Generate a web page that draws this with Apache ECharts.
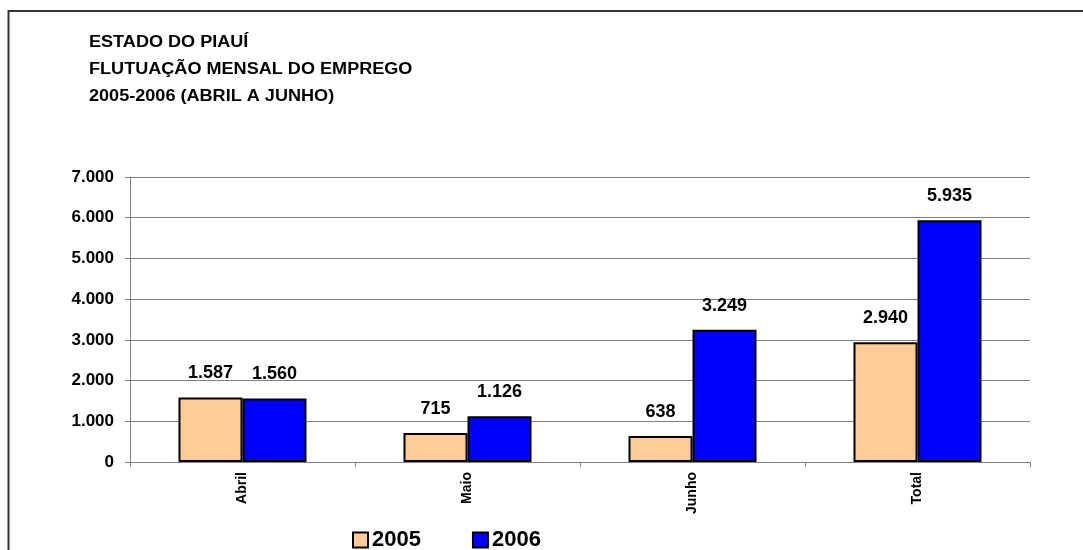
<!DOCTYPE html>
<html>
<head>
<meta charset="utf-8">
<script src="https://cdn.jsdelivr.net/npm/echarts@6/dist/echarts.min.js"></script>
<style>
  html, body { margin: 0; padding: 0; background: #fff; }
  #chart { width: 1083px; height: 550px; }
</style>
</head>
<body>
<div id="chart"></div>
<script>
// Flutuação mensal do emprego no Piauí, abril a junho, 2005 x 2006
const categories = ['Abril', 'Maio', 'Junho', 'Total'];
const serie2005 = [1587, 715, 638, 2940];
const serie2006 = [1560, 1126, 3249, 5935];
const seriesNames = ['2005', '2006'];
const titleLines = ['ESTADO DO PIAUÍ', 'FLUTUAÇÃO MENSAL DO EMPREGO', '2005-2006 (ABRIL A JUNHO)'];

// números no formato brasileiro: 1.587
function fmt(v) {
  return String(Math.round(v)).replace(/\B(?=(\d{3})+(?!\d))/g, '.');
}

const font = '"Liberation Sans", Arial, sans-serif';
const chart = echarts.init(document.getElementById('chart'), null, { renderer: 'canvas' });

const barLabel = {
  show: true,
  position: 'top',
  distance: 15,
  fontFamily: font,
  fontWeight: 'bold',
  fontSize: 18,
  color: '#000',
  formatter: p => fmt(p.value)
};

chart.setOption({
  backgroundColor: '#fff',
  animation: false,
  graphic: [
    {
      type: 'rect',
      silent: true,
      shape: { x: 8.5, y: 11, width: 1200, height: 700 },
      style: { fill: 'none', stroke: '#333', lineWidth: 2 }
    },
    ...titleLines.map((t, i) => ({
      type: 'text',
      left: 89,
      top: 35 + i * 27,
      scaleX: 1.13,
      style: { text: t, fontFamily: font, fontWeight: 'bold', fontSize: 16, fill: '#000' }
    }))
  ],
  legend: {
    left: 352,
    top: 529,
    padding: 0,
    itemWidth: 15,
    itemHeight: 15,
    itemGap: 51,
    icon: 'rect',
    data: seriesNames,
    textStyle: { fontFamily: font, fontWeight: 'bold', fontSize: 22, color: '#000', padding: [0, 0, 0, -1] }
  },
  grid: { left: 130, right: 53, top: 177, bottom: 88, containLabel: false },
  xAxis: {
    type: 'category',
    data: categories,
    axisLine: { lineStyle: { color: '#808080', width: 1 } },
    axisTick: { show: true, length: 5, lineStyle: { color: '#808080' } },
    axisLabel: {
      rotate: 90,
      margin: 10,
      fontFamily: font,
      fontWeight: 'bold',
      fontSize: 14,
      color: '#000'
    },
    splitLine: { show: false }
  },
  yAxis: {
    type: 'value',
    min: 0,
    max: 7000,
    interval: 1000,
    axisLine: { show: true, lineStyle: { color: '#808080', width: 1 } },
    axisTick: { show: true, length: 5, lineStyle: { color: '#808080' } },
    axisLabel: {
      margin: 16,
      fontFamily: font,
      fontWeight: 'bold',
      fontSize: 17,
      color: '#000',
      formatter: v => fmt(v)
    },
    splitLine: { show: true, lineStyle: { color: '#808080', width: 1 } }
  },
  series: [
    {
      name: seriesNames[0],
      type: 'bar',
      data: serie2005,
      barWidth: 64,
      barGap: '0%',
      itemStyle: { color: '#FFCC99', borderColor: '#000', borderWidth: 2 },
      label: barLabel
    },
    {
      name: seriesNames[1],
      type: 'bar',
      data: serie2006,
      barWidth: 64,
      barGap: '0%',
      itemStyle: { color: '#0000FF', borderColor: '#000', borderWidth: 2 },
      label: barLabel
    }
  ]
});
</script>
</body>
</html>
